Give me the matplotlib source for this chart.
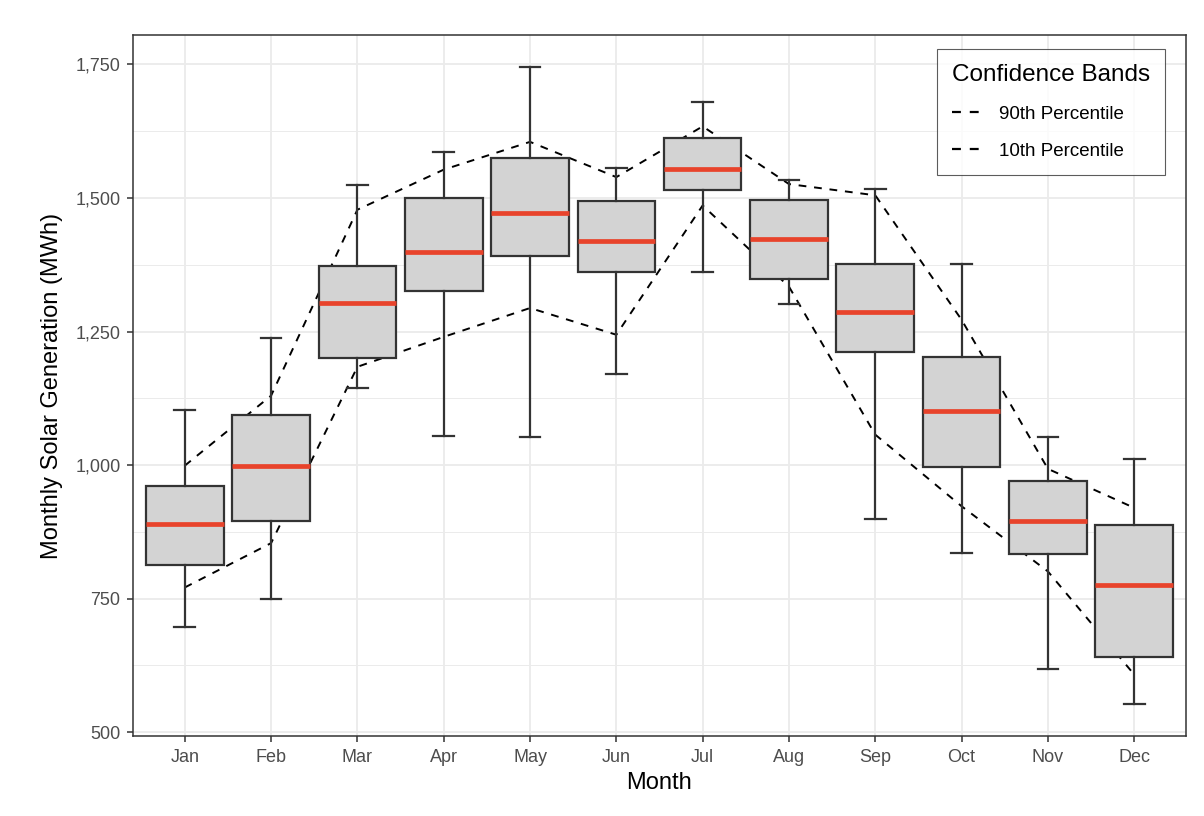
import matplotlib
matplotlib.use("Agg")
import matplotlib.pyplot as plt
from matplotlib.lines import Line2D
from matplotlib.ticker import FuncFormatter, MultipleLocator

plt.rcParams["font.family"] = ["Liberation Sans", "DejaVu Sans"]

# monthly generation summaries (MWh)
months = ["Jan", "Feb", "Mar", "Apr", "May", "Jun",
          "Jul", "Aug", "Sep", "Oct", "Nov", "Dec"]
whisker_low = [697, 749, 1145, 1055, 1052, 1171, 1361, 1302, 900, 835, 618, 552]
q1 = [813, 896, 1200, 1326, 1391, 1361, 1514, 1348, 1212, 996, 833, 641]
medians = [889, 998, 1303, 1399, 1471, 1419, 1554, 1424, 1287, 1102, 895, 775]
q3 = [960, 1094, 1373, 1499, 1574, 1495, 1612, 1496, 1376, 1202, 971, 888]
whisker_high = [1103, 1237, 1525, 1586, 1745, 1557, 1679, 1533, 1517, 1376, 1052, 1011]
p90 = [999, 1130, 1478, 1553, 1605, 1539, 1634, 1526, 1505, 1272, 993, 920]
p10 = [771, 854, 1184, 1240, 1294, 1244, 1486, 1334, 1057, 923, 801, 608]

GRID = "#EBEBEB"
DARK = "#333333"
LABEL = "#4D4D4D"

fig = plt.figure(figsize=(12.04, 8.16), dpi=100)
ax = fig.add_axes([133 / 1204, 1 - 736 / 816, (1186 - 133) / 1204, (736 - 35) / 816])

x = list(range(1, len(months) + 1))

# confidence bands (drawn under the boxes)
ax.plot(x, p90, color="black", lw=1.4, dashes=(4, 4), zorder=2)
ax.plot(x, p10, color="black", lw=1.4, dashes=(4, 4), zorder=2)

stats = []
for i, m in enumerate(months):
    stats.append({"label": m, "whislo": whisker_low[i], "q1": q1[i],
                  "med": medians[i], "q3": q3[i], "whishi": whisker_high[i],
                  "fliers": []})

ax.bxp(stats, positions=x, widths=0.9, capwidths=0.24, patch_artist=True,
       showfliers=False, zorder=3,
       boxprops=dict(facecolor="#D3D3D3", edgecolor=DARK, linewidth=1.6),
       whiskerprops=dict(color=DARK, linewidth=1.6),
       capprops=dict(color=DARK, linewidth=1.6),
       medianprops=dict(color="#E8432B", linewidth=3.4, solid_capstyle="butt"))

ax.set_xlim(0.4, 12.6)
ax.set_ylim(493, 1805)
ax.set_xticks(x)
ax.set_xticklabels(months)
ax.yaxis.set_major_locator(MultipleLocator(250))
ax.yaxis.set_minor_locator(MultipleLocator(125))
ax.yaxis.set_major_formatter(FuncFormatter(lambda v, _: f"{v:,.0f}"))

ax.grid(True, which="major", color=GRID, lw=1.3, zorder=0)
ax.grid(True, which="minor", axis="y", color=GRID, lw=0.7, zorder=0)
ax.set_axisbelow(True)
ax.tick_params(which="minor", length=0)
ax.tick_params(which="major", length=4.5, width=1.1, color=DARK, pad=4.5,
               labelsize=13, labelcolor=LABEL)
for s in ax.spines.values():
    s.set_color(DARK)
    s.set_linewidth(1.1)

ax.set_xlabel("Month", fontsize=17, labelpad=5)
ax.set_ylabel("Monthly Solar Generation (MWh)", fontsize=17, labelpad=9)

handles = [Line2D([], [], color="black", lw=1.6, dashes=(4, 4)),
           Line2D([], [], color="black", lw=1.6, dashes=(4, 4))]
leg = ax.legend(handles, ["90th Percentile", "10th Percentile"],
                title="Confidence Bands", loc="upper right",
                bbox_to_anchor=(0.980, 0.980), fontsize=13.5,
                title_fontsize=17.5, frameon=True, fancybox=False,
                edgecolor=DARK, handlelength=1.8, handletextpad=0.7,
                labelspacing=1.05, borderpad=0.8, borderaxespad=0,
                alignment="left")
leg.get_frame().set_linewidth(0.8)

fig.savefig("out.png", dpi=100)
